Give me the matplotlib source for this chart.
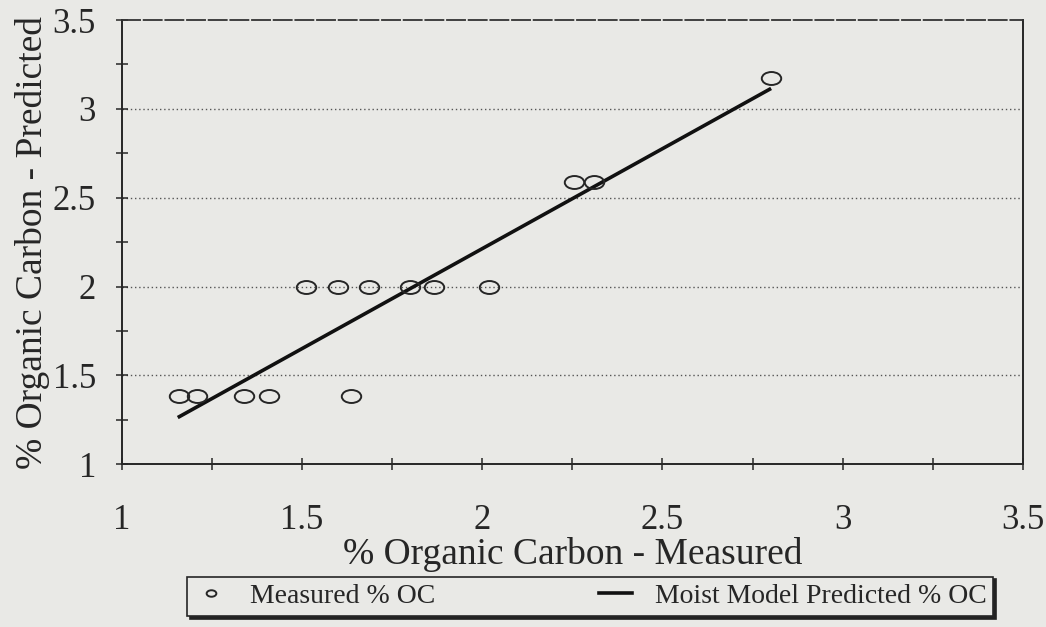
import matplotlib

matplotlib.use("Agg")
import matplotlib.pyplot as plt
import numpy as np
from matplotlib.path import Path

plt.rcParams["font.family"] = ["Liberation Serif", "DejaVu Serif"]

# measured vs predicted % organic carbon
measured_x = [1.16, 1.21, 1.34, 1.41, 1.635,
              1.51, 1.60, 1.685, 1.80, 1.865, 2.02,
              2.255, 2.31, 2.80]
measured_y = [1.385, 1.385, 1.385, 1.385, 1.385,
              1.995, 1.995, 1.995, 1.995, 1.995, 1.995,
              2.59, 2.59, 3.175]

# moist model fit line (end points)
model_x = [1.16, 2.797]
model_y = [1.268, 3.11]

major_ticks = [1, 1.5, 2, 2.5, 3, 3.5]
tick_labels = ["1", "1.5", "2", "2.5", "3", "3.5"]
grid_levels = [1.5, 2, 2.5, 3]

bg = "#e9e9e6"
ink = "#262626"

# slightly squashed circle, like the plotter's marker
circ = Path.unit_circle()
ellipse = Path(circ.vertices * np.array([1.5, 1.0]), circ.codes)

fig = plt.figure(figsize=(10.46, 6.27), dpi=100, facecolor=bg)
ax = fig.add_axes([0.1163, 0.2595, 0.8617, 0.7086])
ax.set_facecolor(bg)

for g in grid_levels:
    ax.axhline(g, color="#555555", lw=1.0, ls=(0, (1, 2)), zorder=1)

pts, = ax.plot(measured_x, measured_y, ls="none", marker=ellipse, ms=14,
               mfc="none", mec=ink, mew=1.4, zorder=3, label="Measured % OC")
fit, = ax.plot(model_x, model_y, color="#111111", lw=2.6, zorder=2,
               label="Moist Model Predicted % OC")

ax.set_xlim(1, 3.5)
ax.set_ylim(1, 3.5)
ax.set_xticks(major_ticks)
ax.set_xticklabels(tick_labels)
ax.set_yticks(major_ticks)
ax.set_yticklabels(tick_labels)
ax.set_xticks(np.arange(1.25, 3.5, 0.5), minor=True)
ax.set_yticks(np.arange(1.25, 3.5, 0.5), minor=True)
ax.tick_params(axis="both", which="both", direction="inout", length=9,
               width=1.1, color=ink, labelsize=25, labelcolor=ink)
ax.tick_params(axis="x", pad=24)
ax.tick_params(axis="y", pad=14)

for side in ("left", "bottom", "right"):
    ax.spines[side].set_color(ink)
    ax.spines[side].set_linewidth(1.4)
ax.spines["top"].set_color("#333333")
ax.spines["top"].set_linewidth(1.3)
ax.spines["top"].set_linestyle((0, (10, 2)))

ax.set_xlabel("% Organic Carbon - Measured", fontsize=27, color=ink)
ax.set_ylabel("% Organic Carbon - Predicted", fontsize=27, color=ink)
ax.xaxis.set_label_coords(0.5, -0.164)
ax.yaxis.set_label_coords(-0.08, 0.5)

leg = fig.legend(handles=[pts, fit], loc="lower left",
                 bbox_to_anchor=(0.179, 0.0175, 0.7706, 0.0654),
                 mode="expand", ncol=2, fontsize=20, frameon=True,
                 fancybox=False, edgecolor=ink, facecolor=bg, framealpha=1,
                 shadow={"color": "#222222", "alpha": 1},
                 handlelength=1.2, handletextpad=0.8, borderaxespad=0,
                 borderpad=0.25, markerscale=0.5)
leg.get_frame().set_linewidth(1.2)
for t in leg.get_texts():
    t.set_color(ink)

fig.savefig("out.png", dpi=100, facecolor=bg)
